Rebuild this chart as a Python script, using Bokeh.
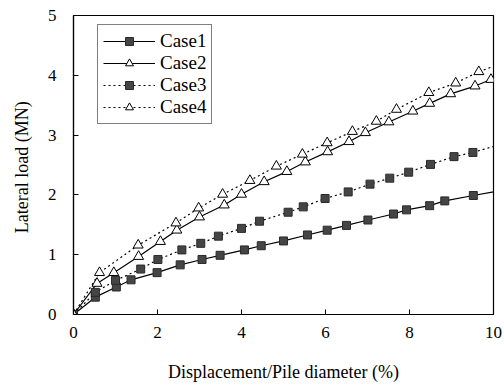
from bokeh.plotting import figure
from bokeh.models import Legend, LegendItem, Range1d, FixedTicker
from bokeh.embed import file_html
from bokeh.resources import INLINE

# ---- data ----
case1_x = [0, 0.52, 1.02, 1.37, 1.99, 2.54, 3.06, 3.49, 4.07, 4.47, 5.0, 5.57, 6.04, 6.5, 7.01, 7.62, 7.93, 8.48, 8.84, 9.52]
case1_y = [0, 0.29, 0.46, 0.58, 0.70, 0.83, 0.92, 0.99, 1.08, 1.15, 1.23, 1.33, 1.41, 1.49, 1.58, 1.68, 1.75, 1.82, 1.90, 1.99]
case1_end = 2.05

case2_x = [0, 0.56, 0.96, 1.55, 2.07, 2.46, 3.0, 3.59, 4.0, 4.54, 5.08, 5.52, 6.05, 6.56, 6.95, 7.51, 8.08, 8.48, 8.98, 9.56, 9.94]
case2_y = [0, 0.52, 0.70, 0.97, 1.22, 1.41, 1.63, 1.83, 2.01, 2.22, 2.39, 2.55, 2.72, 2.89, 3.04, 3.22, 3.40, 3.53, 3.69, 3.82, 3.93]
case2_end = 3.93

case3_x = [0, 0.52, 1.0, 1.6, 2.01, 2.58, 3.03, 3.45, 4.0, 4.43, 5.11, 5.47, 5.99, 6.54, 7.06, 7.53, 7.98, 8.50, 9.06, 9.51]
case3_y = [0, 0.37, 0.57, 0.76, 0.92, 1.08, 1.19, 1.31, 1.44, 1.56, 1.71, 1.80, 1.94, 2.05, 2.18, 2.28, 2.38, 2.51, 2.64, 2.71]
case3_end = 2.81

case4_x = [0, 0.62, 1.54, 2.44, 2.98, 3.55, 4.2, 4.83, 5.45, 6.04, 6.64, 7.21, 7.69, 8.46, 9.10, 9.65]
case4_y = [0, 0.70, 1.16, 1.53, 1.78, 2.01, 2.24, 2.48, 2.68, 2.87, 3.06, 3.23, 3.43, 3.71, 3.87, 4.06]
case4_end = 4.15

x_end = 10
x_ticks = [0, 2, 4, 6, 8, 10]
y_ticks = [0, 1, 2, 3, 4, 5]
labels = ["Case1", "Case2", "Case3", "Case4"]

FONT = "'Liberation Serif', 'Times New Roman', serif"

p = figure(width=504, height=388, output_backend="svg", toolbar_location=None,
           x_range=Range1d(0, 10), y_range=Range1d(0, 5),
           min_border_left=73, min_border_right=11, min_border_top=15, min_border_bottom=74,
           background_fill_color="white", border_fill_color="white")
p.grid.visible = False
p.outline_line_color = "black"
p.outline_line_width = 1.2

for ax in (p.xaxis[0], p.yaxis[0]):
    ax.major_tick_in = 5
    ax.major_tick_out = 0
    ax.minor_tick_line_color = None
    ax.axis_line_color = "black"
    ax.axis_line_width = 1.2
    ax.major_tick_line_color = "black"
    ax.major_label_text_font = FONT
    ax.major_label_text_font_size = "17px"
    ax.major_label_text_color = "black"
    ax.axis_label_text_font = FONT
    ax.axis_label_text_font_size = "18px"
    ax.axis_label_text_font_style = "normal"
    ax.axis_label_text_color = "black"

p.xaxis.ticker = FixedTicker(ticks=x_ticks)
p.yaxis.ticker = FixedTicker(ticks=y_ticks)
p.xaxis.axis_label = "Displacement/Pile diameter (%)"
p.yaxis.axis_label = "Lateral load  (MN)"
p.xaxis.major_label_standoff = 12
p.yaxis.major_label_standoff = 17
p.xaxis.axis_label_standoff = 21
p.yaxis.axis_label_standoff = 13

sq_fill = "#454545"
items = []
series = [
    (case1_x, case1_y, case1_end, "solid", "square"),
    (case2_x, case2_y, case2_end, "solid", "triangle"),
    (case3_x, case3_y, case3_end, "2 3", "square"),
    (case4_x, case4_y, case4_end, "2 3", "triangle"),
]
for (xs, ys, yend, dash, marker), lab in zip(series, labels):
    lx = xs + [x_end]
    ly = ys + [yend]
    ln = p.line(lx, ly, line_color="black", line_width=1.2, line_dash=dash)
    if marker == "square":
        sc = p.scatter(xs, ys, marker="square", size=8, fill_color=sq_fill,
                       line_color="#2a2a2a", line_width=1)
    else:
        sc = p.scatter(xs, ys, marker="triangle", size=10, fill_color="white",
                       line_color="black", line_width=1)
    items.append(LegendItem(label=lab, renderers=[ln, sc]))

legend = Legend(items=items, location=(24, 190))
legend.glyph_width = 52
legend.glyph_height = 20
legend.label_height = 20
legend.label_standoff = 5
legend.spacing = 0
legend.padding = 5
legend.margin = 0
legend.border_line_color = "black"
legend.border_line_width = 1.2
legend.label_text_font = FONT
legend.label_text_font_size = "19px"
legend.label_text_color = "black"
legend.background_fill_color = "white"
legend.background_fill_alpha = 1
p.add_layout(legend, "center")

open("out.html", "w").write(file_html(p, INLINE))
